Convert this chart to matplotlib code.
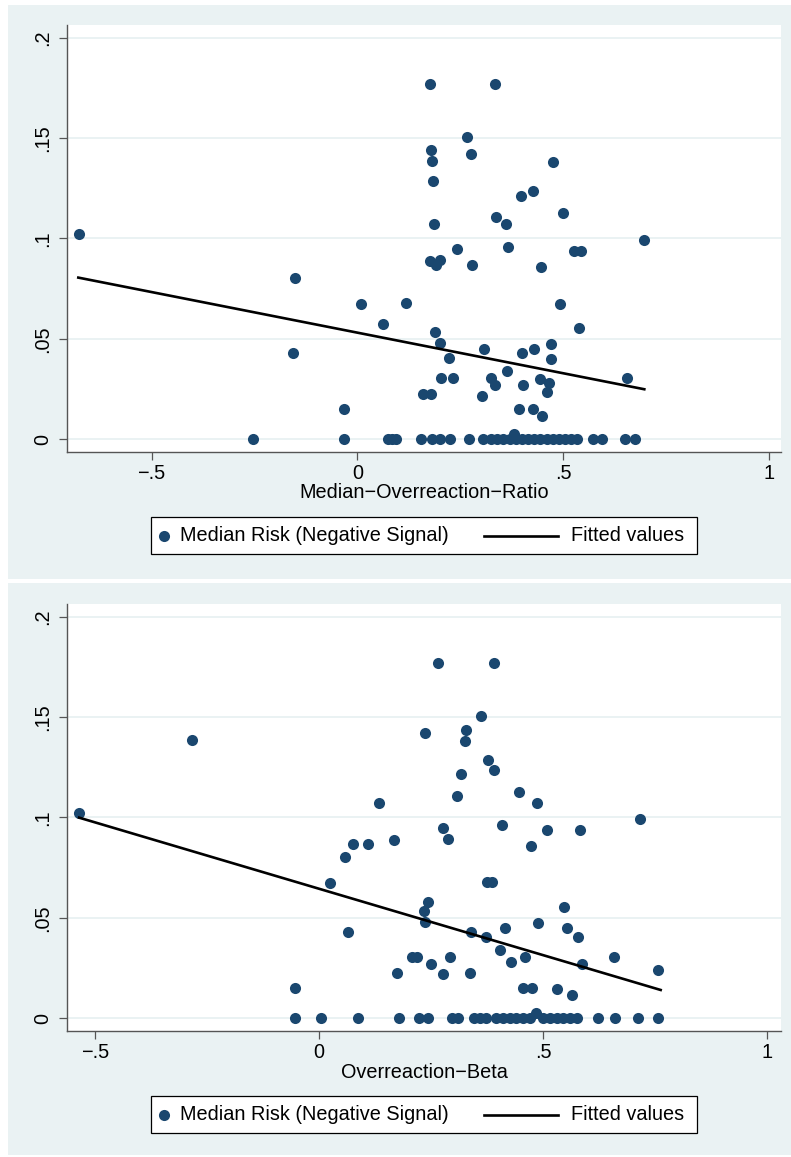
import matplotlib
matplotlib.use('Agg')
import matplotlib.pyplot as plt
from matplotlib.patches import Rectangle
from matplotlib.lines import Line2D

plt.rcParams['font.family'] = ['Liberation Sans', 'DejaVu Sans']

# ---- data: panel 1 (Median-Overreaction-Ratio) ----
ratio_x = [-0.676, -0.152, -0.157, -0.033, 0.009, 0.063, 0.118, 0.176, 0.335, 0.266,
           0.178, 0.276, 0.181, 0.476, 0.185, 0.399, 0.426, 0.186, 0.338, 0.361,
           0.499, 0.696, 0.243, 0.367, 0.527, 0.544, 0.177, 0.202, 0.191, 0.279,
           0.446, 0.493, 0.190, 0.539, 0.202, 0.223, 0.307, 0.401, 0.429, 0.471,
           0.471, 0.203, 0.233, 0.325, 0.335, 0.365, 0.402, 0.443, 0.466, 0.462,
           0.655, 0.160, 0.178, 0.303, 0.392, 0.426, 0.448, 0.382]
ratio_risk = [0.1022, 0.0805, 0.0428, 0.0152, 0.0675, 0.0576, 0.0679, 0.1769, 0.1768, 0.1505,
              0.1439, 0.1419, 0.1384, 0.1381, 0.1288, 0.1213, 0.1237, 0.1072, 0.1107, 0.1072,
              0.1125, 0.0991, 0.0948, 0.0959, 0.0938, 0.0938, 0.0886, 0.0891, 0.0866, 0.0866,
              0.0858, 0.0674, 0.0534, 0.0553, 0.0481, 0.0403, 0.0450, 0.0428, 0.0450, 0.0475,
              0.0401, 0.0304, 0.0304, 0.0305, 0.0269, 0.0342, 0.0269, 0.0302, 0.0280, 0.0236,
              0.0304, 0.0227, 0.0227, 0.0217, 0.0149, 0.0152, 0.0115, 0.0026]
ratio_zero_x = [-0.253, -0.032, 0.075, 0.085, 0.095, 0.155, 0.181, 0.201, 0.225, 0.272,
                0.305, 0.325, 0.340, 0.355, 0.370, 0.385, 0.400, 0.415, 0.430, 0.445,
                0.460, 0.475, 0.490, 0.505, 0.520, 0.535, 0.573, 0.595, 0.650, 0.675]
ratio_fit_x = [-0.678, 0.6975]
ratio_fit_y = [0.0805, 0.0249]

# ---- data: panel 2 (Overreaction-Beta) ----
beta_x = [-0.536, -0.283, -0.0536, 0.023, 0.0574, 0.0648, 0.0745, 0.108, 0.1325, 0.166,
          0.173, 0.266, 0.389, 0.361, 0.235, 0.327, 0.326, 0.377, 0.391, 0.317,
          0.307, 0.445, 0.485, 0.717, 0.276, 0.407, 0.509, 0.583, 0.287, 0.473,
          0.374, 0.385, 0.242, 0.234, 0.236, 0.547, 0.488, 0.339, 0.372, 0.415,
          0.554, 0.577, 0.403, 0.429, 0.459, 0.587, 0.658, 0.755, 0.206, 0.219,
          0.249, 0.292, 0.277, 0.336, 0.455, 0.475, 0.530, 0.565, 0.484]
beta_risk = [0.1023, 0.1384, 0.0151, 0.0675, 0.0803, 0.0429, 0.0866, 0.0866, 0.1073, 0.0887,
             0.0224, 0.1771, 0.1770, 0.1504, 0.1419, 0.1437, 0.1381, 0.1288, 0.1238, 0.1215,
             0.1108, 0.1125, 0.1073, 0.0990, 0.0949, 0.0961, 0.0937, 0.0939, 0.0891, 0.0857,
             0.0676, 0.0676, 0.0578, 0.0535, 0.0479, 0.0552, 0.0474, 0.0429, 0.0402, 0.0450,
             0.0450, 0.0402, 0.0339, 0.0278, 0.0303, 0.0269, 0.0303, 0.0238, 0.0303, 0.0303,
             0.0268, 0.0303, 0.0218, 0.0226, 0.0148, 0.0148, 0.0145, 0.0113, 0.0023]
beta_zero_x = [-0.055, 0.003, 0.086, 0.178, 0.222, 0.243, 0.296, 0.310, 0.345, 0.359,
               0.373, 0.395, 0.410, 0.425, 0.440, 0.455, 0.470, 0.500, 0.515, 0.530,
               0.545, 0.560, 0.575, 0.622, 0.660, 0.711, 0.756]
beta_fit_x = [-0.536, 0.762]
beta_fit_y = [0.0999, 0.0140]

y_ticks = [0, 0.05, 0.1, 0.15, 0.2]
y_ticklabels = ['0', '.05', '.1', '.15', '.2']
x_ticks = [-0.5, 0, 0.5, 1]
x_ticklabels = ['\u2212.5', '0', '.5', '1']

series_label = 'Median Risk (Negative Signal)'
fit_label = 'Fitted values'

W, H = 791, 1157
NAVY = '#1A476F'
BG = '#EAF2F3'
AXC = '#555555'


def fx(px):
    return px / W


def fy(py):
    return 1 - py / H


fig = plt.figure(figsize=(W / 100, H / 100), dpi=100)
fig.patch.set_facecolor('white')

panels = [
    dict(top=5, bot=579, ax_top=25, ax_bot=451.7, xlim=(-0.7055, 1.0297), ylim=(-0.0062, 0.2063),
         x=ratio_x, y=ratio_risk, zx=ratio_zero_x, fx_=ratio_fit_x, fy_=ratio_fit_y,
         xlabel='Median\u2212Overreaction\u2212Ratio', xlab_y=493, leg=(516.7, 554.3)),
    dict(top=583, bot=1155, ax_top=604, ax_bot=1030.7, xlim=(-0.563, 1.0306), ylim=(-0.0063, 0.2064),
         x=beta_x, y=beta_risk, zx=beta_zero_x, fx_=beta_fit_x, fy_=beta_fit_y,
         xlabel='Overreaction\u2212Beta', xlab_y=1072.3, leg=(1095.7, 1133.3)),
]

for p in panels:
    # outer graph region
    fig.add_artist(Rectangle((fx(8), fy(p['bot'])), fx(W - 8), (p['bot'] - p['top']) / H,
                             transform=fig.transFigure, facecolor=BG, edgecolor='none', zorder=0))

    ax = fig.add_axes([fx(67), fy(p['ax_bot']), fx(781 - 67), (p['ax_bot'] - p['ax_top']) / H])
    ax.set_facecolor('white')
    ax.set_zorder(1)

    ax.plot(p['x'], p['y'], 'o', color=NAVY, markersize=8, markeredgewidth=0, zorder=3)
    ax.plot(p['zx'], [0] * len(p['zx']), 'o', color=NAVY, markersize=8, markeredgewidth=0, zorder=3)
    ax.plot(p['fx_'], p['fy_'], color='black', linewidth=1.9, zorder=4)

    ax.set_xlim(*p['xlim'])
    ax.set_ylim(*p['ylim'])
    ax.set_xticks(x_ticks)
    ax.set_xticklabels(x_ticklabels, fontsize=14.3)
    ax.set_yticks(y_ticks)
    ax.set_yticklabels(y_ticklabels, fontsize=14.3, rotation=90, va='center')
    ax.tick_params(axis='both', direction='out', length=5.5, width=0.9, color=AXC)
    ax.tick_params(axis='x', pad=3)
    ax.tick_params(axis='y', pad=5)
    ax.yaxis.grid(True, color=BG, linewidth=1.4, zorder=1)
    ax.set_axisbelow(True)
    for s in ['top', 'right']:
        ax.spines[s].set_visible(False)
    for s in ['left', 'bottom']:
        ax.spines[s].set_color(AXC)
        ax.spines[s].set_linewidth(1.0)

    fig.text(fx(424), fy(p['xlab_y']), p['xlabel'], fontsize=14.3, ha='center', va='center')

    # legend box
    lt, lb = p['leg']
    lc = (lt + lb) / 2
    fig.add_artist(Rectangle((fx(151), fy(lb)), fx(697 - 151), (lb - lt) / H,
                             transform=fig.transFigure, facecolor='white', edgecolor='black',
                             linewidth=0.9, zorder=2))
    fig.add_artist(Line2D([fx(164.3)], [fy(lc)], marker='o', color=NAVY, markersize=8,
                          markeredgewidth=0, linestyle='none', transform=fig.transFigure, zorder=3))
    fig.text(fx(180.3), fy(lc), series_label, fontsize=14.3, ha='left', va='center', zorder=3)
    fig.add_artist(Line2D([fx(484.3), fx(558.3)], [fy(lc), fy(lc)], color='black', linewidth=1.9,
                          transform=fig.transFigure, zorder=3))
    fig.text(fx(571), fy(lc), fit_label, fontsize=14.3, ha='left', va='center', zorder=3)

plt.savefig('out.png', dpi=100, facecolor='white')
